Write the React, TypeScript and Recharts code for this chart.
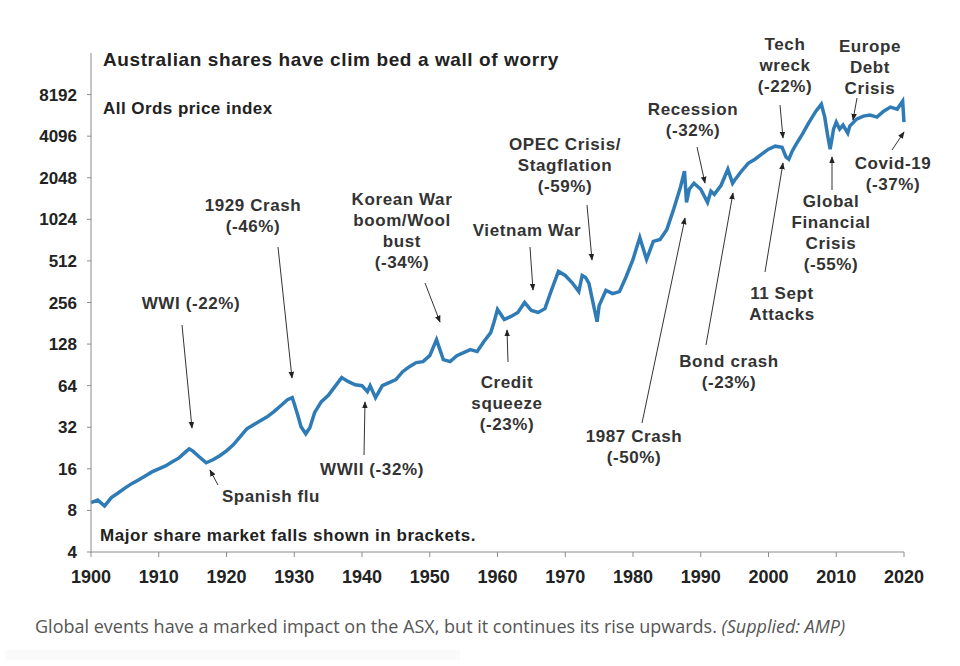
import { Line, LineChart, XAxis, YAxis } from 'recharts'

const years = [
  1900, 1901, 1902, 1903, 1904, 1905, 1906, 1907, 1908, 1909, 1910, 1911, 1912, 1913, 1914, 1914.5,
  1915, 1916, 1917, 1918, 1919, 1920, 1921, 1922, 1923, 1924, 1925, 1926, 1927, 1928, 1929, 1929.7,
  1930, 1930.5, 1931, 1931.7, 1932.3, 1933, 1934, 1935, 1936, 1937, 1938, 1939, 1940, 1940.8, 1941.2,
  1942, 1943, 1944, 1945, 1946, 1947, 1948, 1949, 1950, 1951, 1952, 1953, 1954, 1955, 1956, 1957,
  1958, 1959, 1959.5, 1960, 1961, 1962, 1963, 1964, 1965, 1966, 1967, 1968, 1969, 1970, 1971, 1972,
  1972.5, 1973, 1973.5, 1974, 1974.7, 1975, 1976, 1977, 1978, 1979, 1980, 1981, 1982, 1983, 1984,
  1985, 1986, 1987, 1987.6, 1987.9, 1988.3, 1989, 1990, 1991, 1991.5, 1992, 1993, 1994, 1994.7, 1995,
  1996, 1997, 1998, 1999, 2000, 2001, 2002, 2002.6, 2003, 2003.5, 2004, 2005, 2006, 2007, 2007.8,
  2008.3, 2008.7, 2009.1, 2009.6, 2010, 2010.5, 2011, 2011.7, 2012, 2013, 2014, 2015, 2016, 2017,
  2018, 2019, 2019.8, 2020,
]

const allOrds = [
  9.1, 9.5, 8.6, 9.9, 10.7, 11.6, 12.5, 13.3, 14.2, 15.2, 16, 16.8, 18, 19.2, 21.3, 22.3,
  21.6, 19.5, 17.7, 18.6, 19.9, 21.6, 23.9, 27.3, 31.2, 33.4, 35.7, 38.1, 41.5, 45.8, 50.7, 52.4,
  47.4, 39.4, 32.3, 28.7, 31.7, 40.8, 49, 54.2, 63, 73.2, 68.4, 65, 64, 57.9, 64,
  52.4, 64, 67.3, 70.8, 80.8, 87.9, 94, 95.5, 105.6, 138, 98.8, 95.5, 105.6, 111, 116.7, 113,
  133.5, 155, 186, 228, 193, 203, 217, 256, 224, 217, 231, 318, 430, 402, 357, 307,
  402, 389, 352, 269, 186, 243, 313, 297, 307, 395, 525, 758, 525, 709, 733,
  866, 1210, 1747, 2283, 1360, 1690, 1868, 1690, 1360, 1635, 1554, 1806, 2360, 1868, 1964,
  2283, 2608, 2790, 3032, 3297, 3466, 3400, 2885, 2790, 3190, 3525, 4235, 5175, 6218, 6990,
  5627, 4235, 3297, 4605, 5175, 4605, 4923, 4307, 4842, 5441, 5721, 5820, 5627, 6218,
  6650, 6432, 7347, 5175,
]

const xTicks = [1900, 1910, 1920, 1930, 1940, 1950, 1960, 1970, 1980, 1990, 2000, 2010, 2020]
const yTicks = [4, 8, 16, 32, 64, 128, 256, 512, 1024, 2048, 4096, 8192]

const data = years.map((year, i) => ({ year, value: allOrds[i] }))

// annotation labels: lines, centre x, first baseline
const notes = [
  { lines: ['WWI (-22%)'], x: 191, y: 309 },
  { lines: ['1929 Crash', '(-46%)'], x: 253, y: 211 },
  { lines: ['Korean War', 'boom/Wool', 'bust', '(-34%)'], x: 402, y: 205 },
  { lines: ['Vietnam War'], x: 527, y: 236 },
  { lines: ['OPEC Crisis/', 'Stagflation', '(-59%)'], x: 565, y: 150 },
  { lines: ['Credit', 'squeeze', '(-23%)'], x: 507, y: 388 },
  { lines: ['1987 Crash', '(-50%)'], x: 634, y: 442 },
  { lines: ['Recession', '(-32%)'], x: 693, y: 115 },
  { lines: ['Tech', 'wreck', '(-22%)'], x: 785, y: 50 },
  { lines: ['Europe', 'Debt', 'Crisis'], x: 870, y: 52 },
  { lines: ['Covid-19', '(-37%)'], x: 893, y: 169 },
  { lines: ['Global', 'Financial', 'Crisis', '(-55%)'], x: 831, y: 207 },
  { lines: ['11 Sept', 'Attacks'], x: 782, y: 299 },
  { lines: ['Bond crash', '(-23%)'], x: 729, y: 367 },
  { lines: ['WWII (-32%)'], x: 372, y: 475 },
  { lines: ['Spanish flu'], x: 271, y: 502 },
]

// arrows: tail -> tip
const arrows = [
  [182, 325, 192, 428],
  [278, 247, 292, 378],
  [425, 283, 440, 322],
  [530, 247, 533, 290],
  [587, 205, 592, 260],
  [508, 362, 507, 330],
  [642, 423, 685, 218],
  [697, 147, 705, 183],
  [780, 105, 783, 138],
  [857, 98, 853, 120],
  [892, 150, 904, 132],
  [832, 190, 832, 157],
  [765, 272, 783, 163],
  [706, 345, 733, 193],
  [364, 455, 365, 402],
  [218, 485, 210, 470],
]

const font = '"Liberation Sans", Arial, sans-serif'

export default function App() {
  return (
    <div style={{ position: 'absolute', left: 0, top: 0, width: 960, height: 666, background: '#fff' }}>
      <LineChart width={960} height={600} data={data} margin={{ top: 53, right: 56, bottom: 18, left: 31 }}>
        <XAxis
          dataKey='year'
          type='number'
          domain={[1900, 2020]}
          ticks={xTicks}
          height={30}
          tickSize={5}
          tickMargin={13}
          stroke='#8c8c8c'
          tick={{ fill: '#222', fontSize: 18, fontWeight: 700, fontFamily: font }}
        />
        <YAxis
          scale='log'
          domain={[4, 16384]}
          ticks={yTicks}
          width={60}
          tickSize={4}
          tickMargin={10}
          stroke='#8c8c8c'
          tick={{ fill: '#222', fontSize: 17, fontWeight: 700, fontFamily: font }}
        />
        <Line
          type='linear'
          dataKey='value'
          stroke='#2f7bb6'
          strokeWidth={3.5}
          dot={false}
          isAnimationActive={false}
        />
      </LineChart>
      <svg width={960} height={600} style={{ position: 'absolute', left: 0, top: 0, pointerEvents: 'none' }}>
        <defs>
          <marker id='head' viewBox='0 0 10 10' refX='9' refY='5' markerWidth='7' markerHeight='7' orient='auto'>
            <path d='M0,1 L10,5 L0,9 z' fill='#222' />
          </marker>
        </defs>
        <g fontFamily={font} fill='#222' fontWeight={700}>
          <text x={103} y={66} fontSize={19} letterSpacing={0.6}>Australian shares have clim bed a wall of worry</text>
          <text x={103} y={114} fontSize={17} letterSpacing={0.45}>All Ords price index</text>
          <text x={100} y={541} fontSize={17} letterSpacing={0.55}>Major share market falls shown in brackets.</text>
        </g>
        <g fontFamily={font} fill='#333' fontWeight={700} fontSize={17} letterSpacing={0.6} textAnchor='middle'>
          {notes.map((n, i) => (
            <text key={i} x={n.x} y={n.y}>
              {n.lines.map((l, j) => (
                <tspan key={j} x={n.x} y={n.y + j * 21}>{l}</tspan>
              ))}
            </text>
          ))}
        </g>
        <g stroke='#333' strokeWidth={1}>
          {arrows.map((a, i) => (
            <line key={i} x1={a[0]} y1={a[1]} x2={a[2]} y2={a[3]} markerEnd='url(#head)' />
          ))}
        </g>
      </svg>
      <div
        style={{
          position: 'absolute',
          left: 35,
          top: 614,
          fontFamily: '"Open Sans", sans-serif',
          fontSize: 18,
          color: '#555',
          whiteSpace: 'nowrap',
        }}
      >
        Global events have a marked impact on the ASX, but it continues its rise upwards. <i>(Supplied: AMP)</i>
      </div>
      <div style={{ position: 'absolute', left: 5, top: 650, width: 455, height: 10, background: '#fafafa' }} />
    </div>
  )
}
